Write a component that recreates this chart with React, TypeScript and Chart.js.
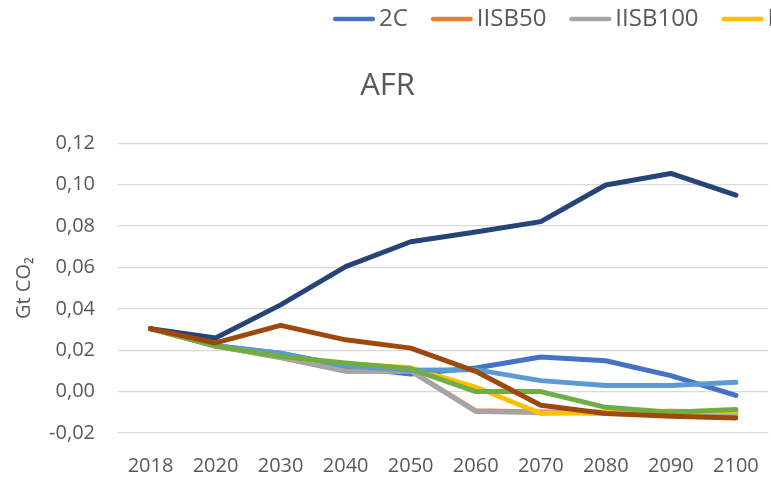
import React, { useEffect, useRef } from 'react';
import { Chart, registerables } from 'chart.js';

Chart.register(...registerables);

// ---- data ----
const YEARS = ['2018', '2020', '2030', '2040', '2050', '2060', '2070', '2080', '2090', '2100'];

const SERIES_NAMES = ['2C', 'IISB50', 'IISB100', 'IISB150', 'IISB200', 'IISB250', 'IISB300', 'IISB400'];

const S_2C = [0.0304, 0.0222, 0.0185, 0.012, 0.0085, 0.0114, 0.0167, 0.0149, 0.0077, -0.0018];
const S_IISB50 = [0.0304, 0.022, 0.0165, 0.01, 0.01, -0.0093, -0.0098, -0.01, -0.0095, -0.0098];
const S_IISB100 = [0.0304, 0.022, 0.0165, 0.0098, 0.01, -0.0096, -0.0101, -0.0105, -0.0108, -0.011];
const S_IISB150 = [0.0304, 0.0222, 0.017, 0.0135, 0.0115, 0.0022, -0.0106, -0.0098, -0.01, -0.0095];
const S_IISB200 = [0.0304, 0.0222, 0.0185, 0.0125, 0.0103, 0.0106, 0.0053, 0.003, 0.0029, 0.0045];
const S_IISB250 = [0.0304, 0.022, 0.017, 0.0138, 0.011, 0.0, 0.0, -0.0076, -0.01, -0.0087];
const S_IISB300 = [0.0304, 0.0259, 0.0419, 0.0604, 0.0724, 0.0771, 0.0821, 0.0998, 0.1054, 0.0949];
const S_IISB400 = [0.0304, 0.0235, 0.032, 0.025, 0.021, 0.0098, -0.0066, -0.0106, -0.0119, -0.0127];

const SERIES_VALUES = [S_2C, S_IISB50, S_IISB100, S_IISB150, S_IISB200, S_IISB250, S_IISB300, S_IISB400];

const COLORS = ['#4472C4', '#ED7D31', '#A5A5A5', '#FFC000', '#5B9BD5', '#70AD47', '#264478', '#9E480E'];

const Y_MIN = -0.02;
const Y_MAX = 0.12;
const Y_STEP = 0.02;

const TITLE = 'AFR';
const Y_TITLE = 'Gt CO\u2082';

// ---- style ----
const FONT = "'Open Sans', 'Noto Sans', sans-serif";
const TEXT_COLOR = '#595959';
const GRID_COLOR = '#D9D9D9';
const LEGEND_X = 333;
const LEGEND_Y = 19;

const topLegend = {
  id: 'topLegend',
  afterDraw(chart: any) {
    const ctx = chart.ctx;
    ctx.save();
    ctx.font = `24px ${FONT}`;
    ctx.textBaseline = 'middle';
    ctx.textAlign = 'left';
    let x = LEGEND_X;
    const y = LEGEND_Y;
    chart.data.datasets.forEach((ds: any) => {
      ctx.strokeStyle = ds.borderColor;
      ctx.lineWidth = 4.5;
      ctx.lineCap = 'round';
      ctx.beginPath();
      ctx.moveTo(x + 2.2, y);
      ctx.lineTo(x + 42 - 2.2, y);
      ctx.stroke();
      x += 46;
      ctx.fillStyle = TEXT_COLOR;
      ctx.fillText(ds.label, x, y);
      x += ctx.measureText(ds.label).width + 23;
    });
    ctx.restore();
  },
};

const fmt = (v: any) => {
  const n = Number(v);
  const r = Math.abs(n) < 1e-9 ? 0 : n;
  return r.toFixed(2).replace('.', ',');
};

export default function App() {
  const ref = useRef<HTMLCanvasElement | null>(null);

  useEffect(() => {
    if (!ref.current) return;
    const n = SERIES_NAMES.length;
    const chart = new Chart(ref.current, {
      type: 'line',
      data: {
        labels: YEARS,
        datasets: SERIES_NAMES.map((name, i) => ({
          label: name,
          data: SERIES_VALUES[i],
          borderColor: COLORS[i],
          backgroundColor: COLORS[i],
          borderWidth: 5,
          borderCapStyle: 'round',
          borderJoinStyle: 'round',
          pointRadius: 0,
          pointHoverRadius: 0,
          fill: false,
          tension: 0,
          order: n - i,
        })),
      },
      options: {
        animation: false,
        responsive: false,
        devicePixelRatio: 1,
        layout: { padding: { left: 0, right: 5, top: 0, bottom: 4 } },
        plugins: {
          legend: { display: false },
          tooltip: { enabled: false },
          title: {
            display: true,
            text: TITLE,
            color: TEXT_COLOR,
            font: { family: FONT, size: 31, weight: 'normal' },
            padding: { top: 68, bottom: 38 },
          },
        },
        scales: {
          x: {
            offset: true,
            grid: { display: false, drawTicks: false },
            border: { display: false },
            ticks: {
              padding: 21,
              color: TEXT_COLOR,
              font: { family: FONT, size: 20 },
              maxRotation: 0,
              autoSkip: false,
            },
            afterFit: (s: any) => {
              s.height = 45;
            },
          },
          y: {
            min: Y_MIN,
            max: Y_MAX,
            grid: { color: GRID_COLOR, lineWidth: 1.3, drawTicks: false },
            border: { display: false },
            ticks: {
              stepSize: Y_STEP,
              padding: 23,
              color: TEXT_COLOR,
              font: { family: FONT, size: 20 },
              callback: fmt,
            },
            title: {
              display: true,
              text: Y_TITLE,
              color: TEXT_COLOR,
              font: { family: FONT, size: 20 },
              padding: { top: 12, bottom: 0 },
            },
            afterFit: (s: any) => {
              s.width = 118;
            },
          },
        },
      },
      plugins: [topLegend],
    } as any);
    return () => chart.destroy();
  }, []);

  return (
    <div
      style={{
        position: 'fixed',
        left: 0,
        top: 0,
        width: 771,
        height: 482,
        overflow: 'hidden',
        background: '#ffffff',
      }}
    >
      <canvas ref={ref} width={780} height={482} style={{ display: 'block', width: 780, height: 482 }} />
    </div>
  );
}
